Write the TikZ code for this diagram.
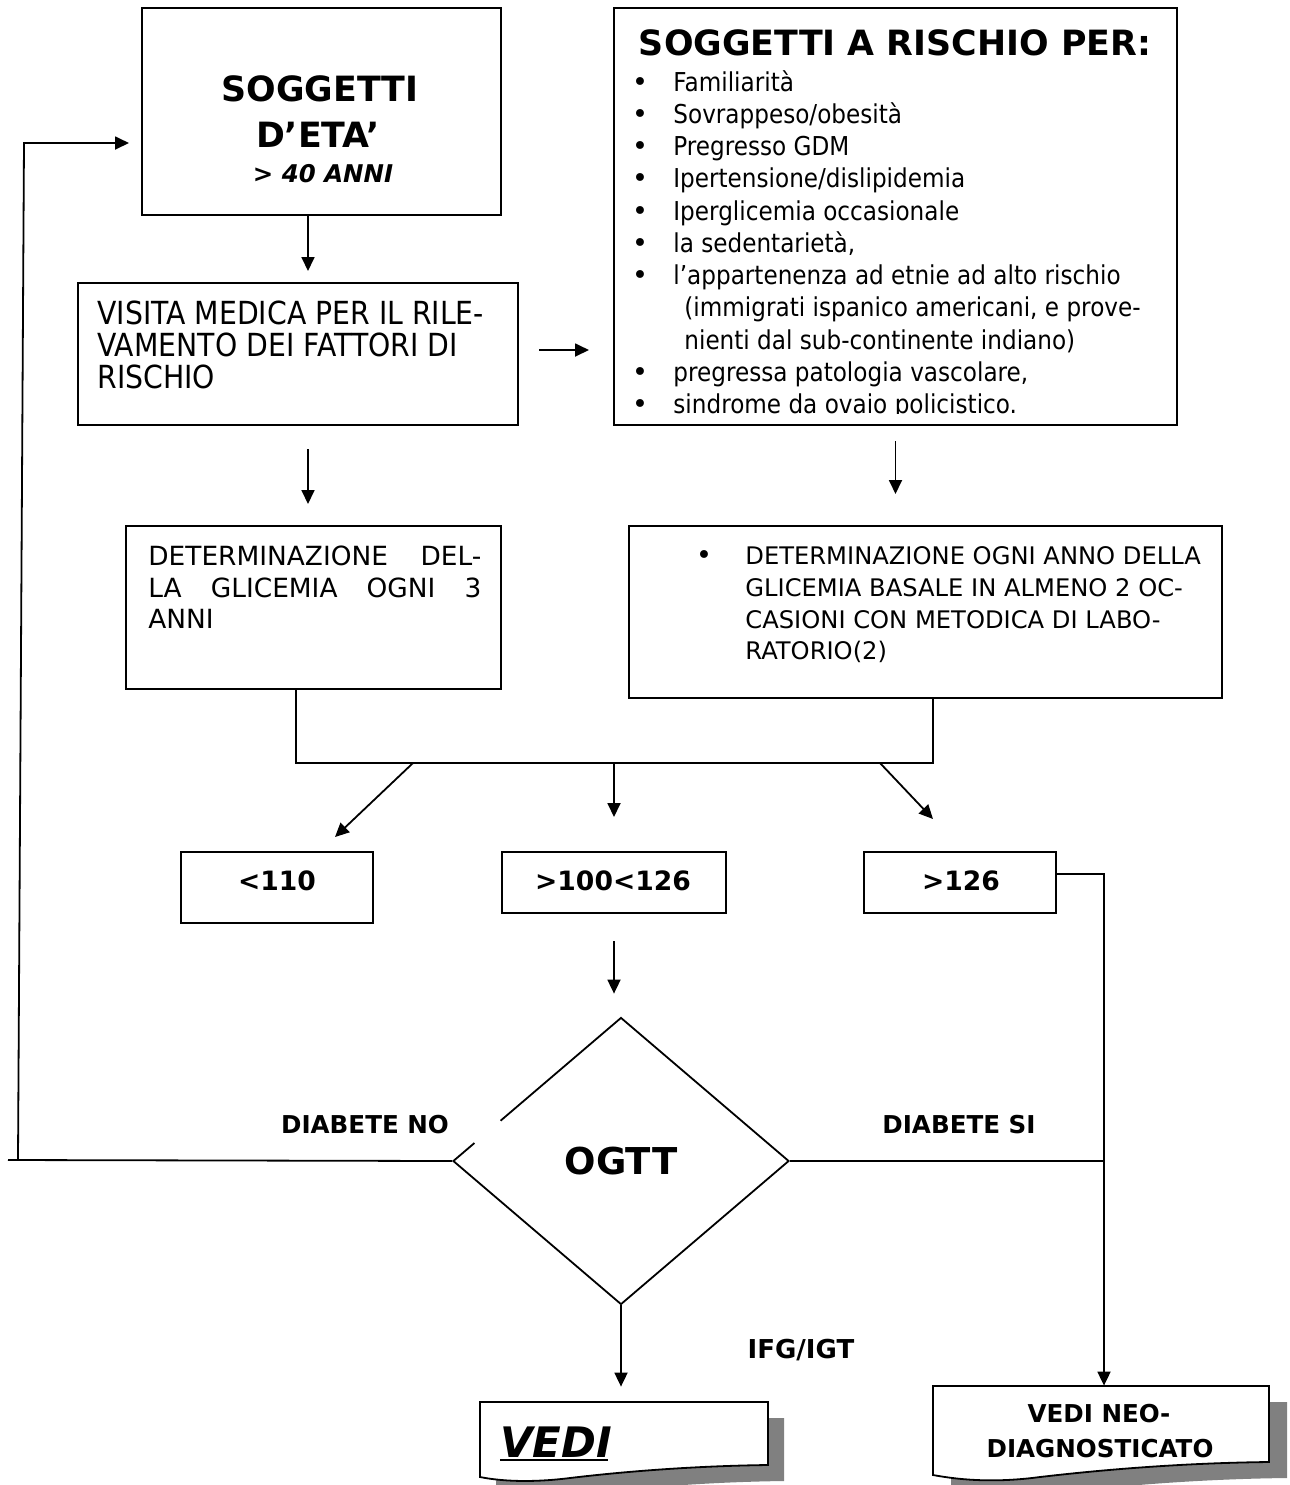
\documentclass[tikz,border=0pt]{standalone}
\usepackage{fontspec}
\setmainfont{DejaVu Sans}[ItalicFont={DejaVu Sans Oblique},BoldFont={DejaVu Sans Bold},BoldItalicFont={DejaVu Sans Bold Oblique}]
\newfontfamily\narrowfont{DejaVu Sans}[FakeStretch=0.89]
\usetikzlibrary{arrows.meta,shapes.geometric,fit,calc}
\definecolor{shadowgray}{HTML}{808080}
\newcommand{\fsz}[2]{\fontsize{#1}{#2}\selectfont}
\begin{document}
\begin{tikzpicture}[x=0.5pt,y=-0.5pt,
  box/.style={draw, line width=1pt, inner sep=0pt},
  conn/.style={line width=0.9pt},
  arr/.style={conn, -{Triangle[length=7pt,width=6.5pt]}},
  txt/.style={inner sep=0pt, anchor=base west},
  ctxt/.style={inner sep=0pt, anchor=base},
  big/.style={font=\fsz{17.4pt}{20pt}\bfseries},
  reg/.style={font=\narrowfont\fsz{15.9pt}{16pt}},
  lst/.style={font=\narrowfont\fsz{13pt}{16pt}},
  det/.style={font=\fsz{13.2pt}{15.5pt}},
  det2/.style={font=\fsz{12.1pt}{15.5pt}},
  val/.style={font=\fsz{13.3pt}{16pt}\bfseries},
  lab/.style={font=\fsz{12.3pt}{15pt}\bfseries},
  docline/.style={draw, line width=0.9pt, fill=white}
]
\useasboundingbox (0,0) rectangle (1290,1485);

% ---------- boxes ----------
\node[box, fit={(142,8)(501,215)}] (b1) {};
\node[box, fit={(614,8)(1177,425)}] (b2) {};
\node[box, fit={(78,283)(518,425)}] (b3) {};
\node[box, fit={(126,526)(501,689)}] (b4) {};
\node[box, fit={(629,526)(1222,698)}] (b5) {};
\node[box, fit={(181,852)(373,923)}] (c1) {};
\node[box, fit={(502,852)(726,913)}] (c2) {};
\node[box, fit={(864,852)(1056,913)}] (c3) {};
\node[draw, diamond, line width=0.9pt, minimum width=168pt, minimum height=143.5pt, inner sep=0pt,
      font=\fsz{18.5pt}{20pt}\bfseries] (dia) at (621,1161) {OGTT};

% ---------- box 1 text ----------
\node[ctxt, big] (t11) at (320,101) {SOGGETTI};
\node[ctxt, big] (t12) at (318,147) {D’ETA’};
\node[ctxt, font=\fsz{12.2pt}{14pt}\bfseries\itshape] (t13) at (323,182) {> 40 ANNI};

% ---------- box 2 text ----------
\node[ctxt, big] (t20) at (895,55) {SOGGETTI A RISCHIO PER:};
\foreach \yy/\tt [count=\i] in {91/Familiarità, 123/Sovrappeso\slash obesità, 155.5/Pregresso GDM,
   187.5/Ipertensione\slash dislipidemia, 220/Iperglicemia occasionale, 252/{la sedentarietà,},
   284/l’appartenenza ad etnie ad alto rischio, 381/{pregressa patologia vascolare,},
   413/sindrome da ovaio policistico.}{
  \node[ctxt, font=\fsz{13.5pt}{16pt}] (bu\i) at (640,\yy) {•};
  \node[txt, lst] (it\i) at (673,\yy) {\tt};
}
\node[txt, lst] (it10) at (684,316.5) {(immigrati ispanico americani, e prove-};
\node[txt, lst] (it11) at (684,349) {nienti dal sub-continente indiano)};
\fill[white] (616,413.5) rectangle (1175,424);

% ---------- box 3 text ----------
\node[txt, reg] (t31) at (97,324) {VISITA MEDICA PER IL RILE-};
\node[txt, reg] (t32) at (97,356) {VAMENTO DEI FATTORI DI};
\node[txt, reg] (t33) at (97,388) {RISCHIO};

% ---------- box 4 text ----------
\node[txt, det] (t41) at (148,565) {\makebox[166.5pt][s]{DETERMINAZIONE DEL-}};
\node[txt, det] (t42) at (148,597) {\makebox[166.5pt][s]{LA GLICEMIA OGNI 3}};
\node[txt, det] (t43) at (148,628) {ANNI};

% ---------- box 5 text ----------
\node[ctxt, font=\fsz{13.5pt}{16pt}] (t50) at (704,564) {•};
\node[txt, det2] (t51) at (745,564) {DETERMINAZIONE OGNI ANNO DELLA};
\node[txt, det2] (t52) at (745,596) {GLICEMIA BASALE IN ALMENO 2 OC-};
\node[txt, det2] (t53) at (745,628) {CASIONI CON METODICA DI LABO-};
\node[txt, det2] (t54) at (745,659) {RATORIO(2)};

% ---------- values ----------
\node[ctxt, val] (v1) at (277,890) {<110};
\node[ctxt, val] (v2) at (613,890) {>100<126};
\node[ctxt, val] (v3) at (961,890) {>126};

% ---------- labels ----------
\node[ctxt, lab] (l1) at (365,1133) {DIABETE NO};
\node[ctxt, lab] (l2) at (959,1133) {DIABETE SI};
\node[ctxt, font=\fsz{13pt}{15pt}\bfseries] (l3) at (801,1358) {IFG/IGT};

% ---------- document shapes ----------
\node[fit={(480,1402)(768,1466)}, inner sep=0pt] (d1) {};
\node[fit={(933,1386)(1269,1462)}, inner sep=0pt] (d2) {};
\fill[shadowgray] (496,1418) -- (784,1418) -- (784,1481)
   .. controls (706,1482) and (636,1488) .. (586,1494)
   .. controls (546,1499) and (516,1497) .. (496,1493) -- cycle;
\path[docline] (480,1402) -- (768,1402) -- (768,1465)
   .. controls (690,1466) and (620,1472) .. (570,1478)
   .. controls (530,1483) and (500,1481) .. (480,1477) -- cycle;
\fill[shadowgray] (951,1402) -- (1287,1402) -- (1287,1478)
   .. controls (1198,1479) and (1118,1486) .. (1058,1493)
   .. controls (1013,1499) and (978,1496) .. (951,1491) -- cycle;
\path[docline] (933,1386) -- (1269,1386) -- (1269,1462)
   .. controls (1180,1463) and (1100,1470) .. (1040,1477)
   .. controls (995,1483) and (960,1480) .. (933,1475) -- cycle;
\node[txt, font=\fsz{21pt}{24pt}\bfseries\itshape] (vedi) at (500,1457) {VEDI};
\draw[line width=1pt] ([yshift=-1.5pt]vedi.base west) -- ([yshift=-1.5pt,xshift=-2pt]vedi.base east);
\node[ctxt, lab] (n1) at (1099,1422) {VEDI NEO-};
\node[ctxt, lab] (n2) at (1100,1457) {DIAGNOSTICATO};

% ---------- connectors ----------
\coordinate (a1) at ([xshift=-6.75pt]b1.south);
\draw[arr, shorten >=5.5pt] (a1) -- (a1 |- b3.north);
\coordinate (a2) at ([yshift=2pt]b3.east);
\draw[arr, shorten <=10pt, shorten >=12pt] (a2) -- (a2 -| b2.west);
\coordinate (a3) at ([xshift=5pt]b3.south);
\draw[arr, shorten <=11.5pt, shorten >=10.5pt] (a3) -- (a3 |- b4.north);
\draw[arr, shorten <=7.5pt, shorten >=15.5pt] (b2.south) -- (b2.south |- b5.north);

\coordinate (hl) at (296,763);
\coordinate (hr) at (933,763);
\draw[conn] ([xshift=-8.75pt]b4.south) -- (hl) -- (hr) -- ([xshift=3.75pt]b5.south);
\coordinate (p1) at (413,763);
\coordinate (p3) at (880,763);
\draw[arr] (p1) -- ([xshift=29pt,yshift=7pt]c1.north);
\draw[arr, shorten >=17pt] (c2.north |- hl) -- (c2.north);
\draw[arr] (p3) -- ([xshift=-13.5pt,yshift=16pt]c3.north);

\draw[arr, shorten <=13.5pt, shorten >=11.5pt] (c2.south) -- (c2.south |- dia.north);

\coordinate (vx) at ([xshift=1.5pt]d2.north);
\draw[arr] ([yshift=4.25pt]c3.east) -| (vx);
\draw[conn] (dia.east) -- (dia.east -| vx);

\coordinate (le) at (8,1160);
\coordinate (lb) at (18,1160);
\coordinate (lt) at (24,143);
\draw[conn] (dia.west) -- (le);
\draw[arr, shorten >=6pt] (lb) -- (lt) -- (lt -| b1.west);

\draw[arr, shorten >=7.5pt] (dia.south) -- (dia.south |- d1.north);

% gap in the diamond edge
\draw[white, line width=3pt] (500,1120.3) -- (474,1142.3);
\end{tikzpicture}
\end{document}
